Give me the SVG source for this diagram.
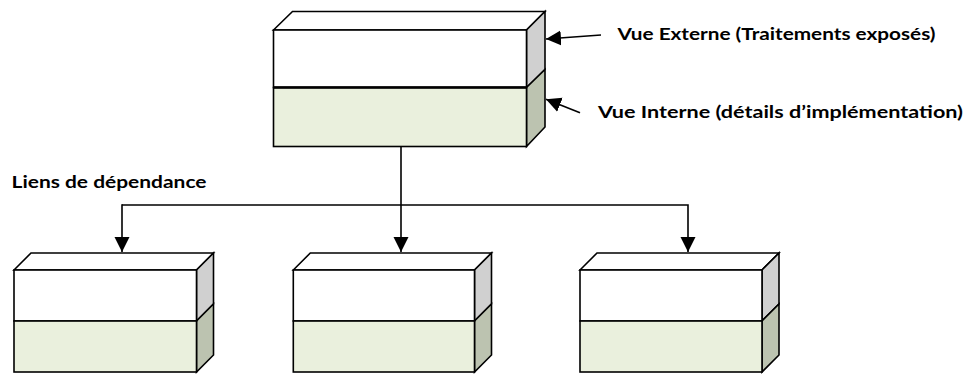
<svg xmlns="http://www.w3.org/2000/svg" width="965" height="374" viewBox="0 0 965 374">
  <style>
    .face { stroke: #000; stroke-width: 1.6; stroke-linejoin: miter; }
    .top { fill: #FFFFFF; }
    .front-up { fill: #FFFFFF; }
    .front-low { fill: #EAF0DD; }
    .side-up { fill: #D0D0D0; }
    .side-low { fill: #BCC3B0; }
    .conn { fill: none; stroke: #000; stroke-width: 1.6; }
    .lbl { font-family: Lato, "Liberation Sans", Arial, sans-serif; font-weight: bold; font-size: 17px; fill: #000; }
  </style>
  <defs>
    <marker id="arrow" markerUnits="userSpaceOnUse" markerWidth="16" markerHeight="16" viewBox="0 0 16 16" refX="15" refY="8" orient="auto">
      <path d="M0,0.5 L15,8 L0,15.5 Z" fill="#000"/>
    </marker>
  </defs>

  <g id="connectors">
    <line class="conn" x1="401" y1="147" x2="401" y2="252" marker-end="url(#arrow)"/>
    <polyline class="conn" points="122,205 688,205 688,252" marker-end="url(#arrow)"/>
    <line class="conn" x1="122" y1="204.2" x2="122" y2="252" marker-end="url(#arrow)"/>
    <line class="conn" x1="601" y1="35" x2="546" y2="39" marker-end="url(#arrow)"/>
    <line class="conn" x1="580" y1="112.7" x2="546" y2="99.3" marker-end="url(#arrow)"/>
  </g>

  <g id="component-main">
    <polygon class="face top" points="273.5,30 292.5,11.5 545,11.5 526.5,30"/>
    <polygon class="face side-up" points="526.5,30 545,11.5 545,69.5 526.5,87.5"/>
    <polygon class="face side-low" points="526.5,87.5 545,69.5 545,127 526.5,146.5"/>
    <rect class="face front-up" x="273.5" y="30" width="253" height="57.5"/>
    <rect class="face front-low" x="273.5" y="87.5" width="253" height="59"/>
    <line x1="273.5" y1="87.5" x2="526.5" y2="87.5" stroke="#000" stroke-width="2.6"/>
  </g>

  <g id="component-1">
    <polygon class="face top" points="14,270 31,253 213.5,253 196.5,270"/>
    <polygon class="face side-up" points="196.5,270 213.5,253 213.5,304 196.5,321"/>
    <polygon class="face side-low" points="196.5,321 213.5,304 213.5,355 196.5,372"/>
    <rect class="face front-up" x="14" y="270" width="182.5" height="51"/>
    <rect class="face front-low" x="14" y="321" width="182.5" height="51"/>
  </g>

  <g id="component-2">
    <polygon class="face top" points="293.3,270 310.3,253 491.5,253 474.5,270"/>
    <polygon class="face side-up" points="474.5,270 491.5,253 491.5,304 474.5,321"/>
    <polygon class="face side-low" points="474.5,321 491.5,304 491.5,355 474.5,372"/>
    <rect class="face front-up" x="293.3" y="270" width="181.2" height="51"/>
    <rect class="face front-low" x="293.3" y="321" width="181.2" height="51"/>
  </g>

  <g id="component-3">
    <polygon class="face top" points="580,270 597,253 779,253 762,270"/>
    <polygon class="face side-up" points="762,270 779,253 779,304 762,321"/>
    <polygon class="face side-low" points="762,321 779,304 779,355 762,372"/>
    <rect class="face front-up" x="580" y="270" width="182" height="51"/>
    <rect class="face front-low" x="580" y="321" width="182" height="51"/>
  </g>

  <g id="labels">
    <text class="lbl" x="617.5" y="40" textLength="318" lengthAdjust="spacingAndGlyphs">Vue Externe (Traitements exposés)</text>
    <text class="lbl" x="598" y="118" textLength="365" lengthAdjust="spacingAndGlyphs">Vue Interne (détails d’implémentation)</text>
    <text class="lbl" x="11.5" y="188" textLength="195" lengthAdjust="spacingAndGlyphs">Liens de dépendance</text>
  </g>
</svg>
